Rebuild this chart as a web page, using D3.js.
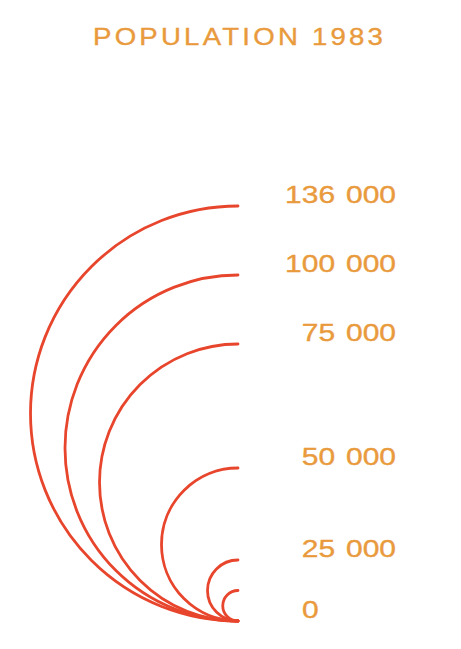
<!DOCTYPE html>
<html>
<head>
<meta charset="utf-8">
<script src="https://cdn.jsdelivr.net/npm/d3@7"></script>
<style>
  body { margin: 0; background: #fff; }
  svg text { font-family: "Liberation Sans", Arial, sans-serif; fill: #e99a3c; stroke: #e99a3c; stroke-width: 0.35px; }
</style>
</head>
<body>
<div id="chart"></div>
<script>
// populations drawn as half circles
var arcValues = [136000, 100000, 75000, 50000, 25000, 12500];
// scale labels on the right
var tickValues = [0, 25000, 50000, 75000, 100000, 136000];
var title = 'POPULATION 1983';

var width = 461, height = 649;
var cx = 238;

var svg = d3.select('#chart').append('svg')
    .attr('width', width).attr('height', height);

// hand drawn legend, so the scale is piecewise
var y = d3.scaleLinear()
    .domain(tickValues)
    .range([621, 560, 468, 344, 275, 206]);

var fmt = d3.formatLocale({ decimal: ',', thousands: ' ', grouping: [3], currency: ['', ''] }).format(',d');

svg.append('text')
    .attr('transform', 'translate(93,45) scale(1.15,1)')
    .style('font-size', '24px')
    .style('letter-spacing', '2.8px')
    .text(title);

svg.selectAll('path.arc')
    .data(arcValues)
    .enter().append('path')
    .attr('class', 'arc')
    .attr('d', function (d) {
        var top = y(d), bottom = y(0);
        var r = (bottom - top) / 2;
        var p = d3.path();
        p.moveTo(cx, top);
        p.arc(cx, top + r, r, -Math.PI / 2, Math.PI / 2, true);
        return p.toString();
    })
    .attr('fill', 'none')
    .attr('stroke', '#e8452d')
    .attr('stroke-width', 2.8)
    .attr('stroke-linecap', 'round');

svg.selectAll('text.tick')
    .data(tickValues)
    .enter().append('text')
    .attr('class', 'tick')
    .attr('transform', function (d) {
        var x = d === 0 ? 302 : 396;
        return 'translate(' + x + ',' + (y(d) - 3) + ') scale(1.25,1)';
    })
    .attr('text-anchor', function (d) { return d === 0 ? 'start' : 'end'; })
    .style('font-size', '24px')
    .style('word-spacing', '2px')
    .text(function (d) { return fmt(d); });
</script>
</body>
</html>
